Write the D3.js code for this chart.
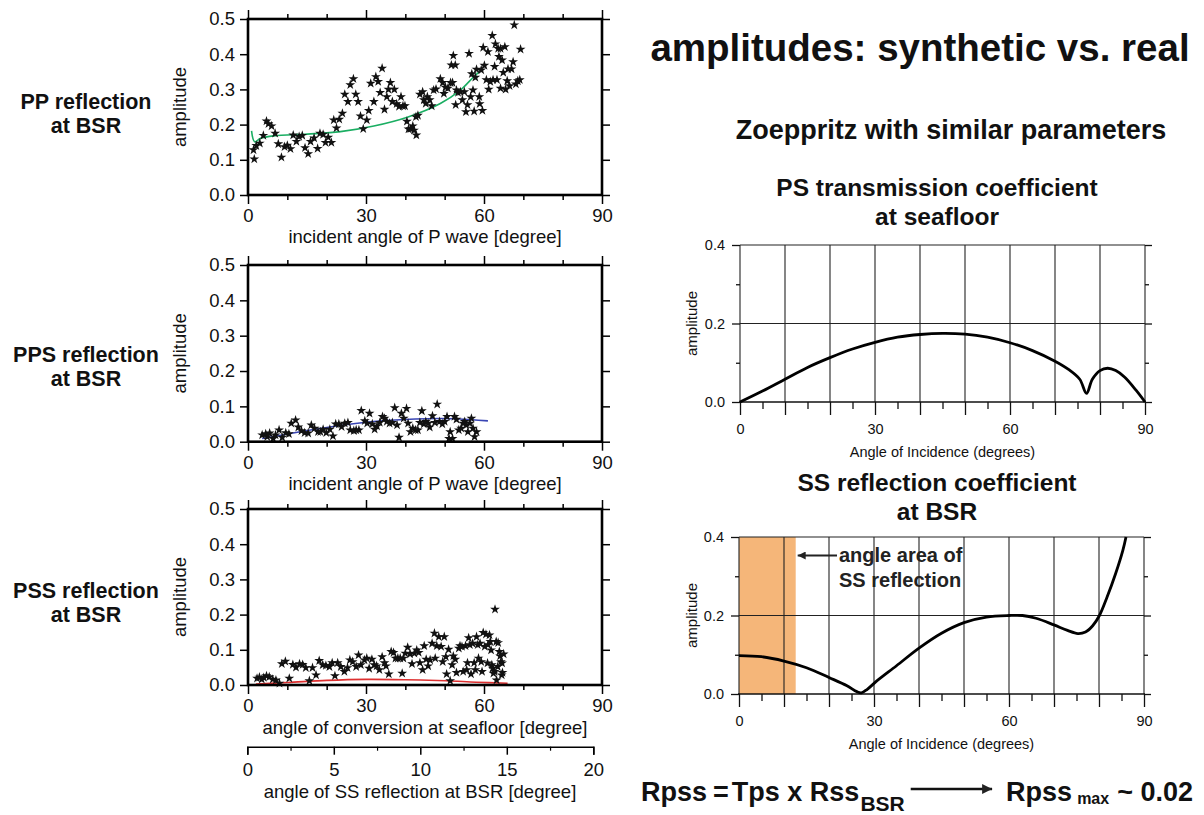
<!DOCTYPE html>
<html>
<head>
<meta charset="utf-8">
<script src="https://cdn.jsdelivr.net/npm/d3@7"></script>
<style>
  body { margin: 0; background: #fff; }
  svg { display: block; font-family: "Liberation Sans", Arial, Helvetica, sans-serif; }
</style>
</head>
<body>
<svg id="chart"></svg>
<script>
// ---- measured data: [angle (deg), amplitude] ----
let ppStars = [[1.4,.128],[1.6,.102],[2.1,.140],[3.0,.147],[3.9,.169],[4.7,.210],[5.2,.202],[6.0,.196],[6.9,.175],[7.7,.145],[8.5,.107],[9.3,.137],[10.0,.141],[10.8,.131],[11.5,.170],[12.3,.152],[13.0,.166],[13.8,.169],[14.5,.134],[15.3,.117],[15.9,.152],[16.8,.162],[17.7,.132],[18.3,.175],[19.1,.172],[19.7,.149],[20.4,.164],[21.2,.149],[21.8,.213],[22.5,.190],[23.2,.215],[24.0,.232],[24.6,.286],[25.4,.265],[26.0,.313],[26.8,.330],[27.4,.286],[28.0,.265],[28.6,.224],[29.3,.188],[30.2,.213],[30.7,.240],[31.2,.317],[32.0,.265],[32.5,.336],[33.1,.322],[33.6,.291],[34.1,.360],[34.7,.243],[35.3,.279],[35.7,.300],[36.2,.319],[36.7,.265],[37.2,.300],[37.8,.259],[38.4,.251],[38.9,.279],[39.4,.253],[39.9,.253],[40.4,.209],[40.8,.187],[41.3,.188],[41.9,.196],[42.2,.184],[42.7,.222],[43.2,.226],[42.8,.170],[43.7,.286],[44.4,.293],[44.7,.270],[45.2,.260],[45.6,.279],[46.2,.270],[46.7,.253],[47.2,.298],[47.8,.301],[48.9,.330],[49.5,.319],[49.8,.288],[50.2,.306],[50.8,.303],[51.5,.319],[52.0,.319],[51.7,.369],[52.2,.396],[52.7,.369],[53.0,.298],[52.8,.256],[53.4,.291],[54.0,.293],[54.5,.270],[55.0,.293],[55.4,.236],[55.8,.256],[56.2,.402],[56.6,.279],[56.9,.344],[57.2,.298],[57.5,.238],[57.8,.334],[58.1,.357],[58.8,.279],[58.9,.259],[59.3,.355],[59.6,.240],[59.8,.419],[60.1,.368],[60.6,.327],[61.0,.407],[61.2,.300],[61.6,.322],[62.1,.453],[62.3,.327],[62.7,.365],[62.9,.429],[63.3,.327],[63.6,.416],[63.8,.393],[64.2,.303],[64.6,.383],[64.9,.348],[65.3,.421],[65.5,.300],[65.9,.324],[66.1,.358],[66.5,.310],[67.0,.358],[67.4,.378],[67.7,.483],[68.1,.315],[68.6,.324],[69.3,.414],[69.1,.327],[64.2,.416]]
let ppLine = [[0.9,.182],[1.7,.151],[3.2,.161],[6.6,.168],[15.1,.173],[23.5,.180],[32,.196],[40.5,.221],[48.9,.260],[54,.298],[57.4,.336],[59.5,.357]]

let ppsStars = [[3.6,.019],[4.5,.022],[4.9,.014],[5.5,.024],[6.4,.009],[7.0,.019],[7.9,.033],[8.7,.012],[9.6,.025],[10.4,.022],[11.0,.052],[12.1,.061],[12.8,.041],[13.6,.031],[14.4,.025],[15.3,.024],[16.1,.047],[16.9,.038],[17.8,.028],[18.4,.028],[19.1,.035],[19.9,.025],[20.8,.035],[21.6,.016],[22.3,.050],[23.1,.050],[23.8,.042],[24.6,.052],[25.4,.054],[26.0,.033],[26.9,.031],[27.5,.033],[28.2,.033],[28.8,.088],[29.7,.059],[30.3,.052],[30.9,.080],[31.6,.050],[32.2,.035],[32.8,.044],[33.5,.054],[34.2,.071],[34.7,.066],[35.3,.057],[36.0,.052],[36.7,.054],[37.3,.096],[37.9,.047],[38.4,.012],[39.0,.080],[39.6,.066],[40.3,.094],[40.7,.052],[41.3,.028],[41.9,.038],[42.6,.033],[43.2,.033],[43.7,.054],[44.2,.087],[44.7,.050],[45.2,.057],[45.8,.052],[46.2,.041],[46.9,.073],[47.5,.054],[48.1,.106],[48.7,.057],[49.4,.050],[50.0,.057],[50.6,.071],[51.1,.009],[51.4,.028],[52.0,.009],[52.5,.071],[53.0,.063],[53.6,.033],[54.2,.038],[54.7,.052],[55.1,.057],[55.5,.047],[55.9,.028],[56.4,.052],[56.8,.066],[57.2,.038],[57.6,.014],[58.1,.028]]
let ppsLine = [[3.6,.009],[10,.022],[20,.040],[28.4,.053],[35,.060],[45.3,.065],[52,.065],[57,.062],[61,.059]]

let pssStars = [[2.3,.019],[2.9,.022],[3.5,.016],[4.0,.021],[4.7,.026],[5.4,.023],[6.3,.016],[7.1,.014],[8.0,.005],[8.6,.060],[9.5,.067],[10.5,.019],[11.4,.058],[12.2,.050],[13.1,.060],[13.9,.058],[14.7,.049],[15.6,.012],[16.4,.049],[17.3,.028],[18.1,.069],[19.0,.057],[19.8,.055],[20.7,.052],[21.4,.063],[22.1,.026],[22.8,.063],[23.6,.052],[24.5,.038],[25.3,.049],[25.9,.071],[26.6,.066],[27.5,.052],[28.1,.085],[28.7,.057],[29.6,.071],[30.2,.076],[30.8,.047],[31.5,.073],[32.1,.057],[32.7,.054],[33.4,.043],[34.1,.080],[34.7,.063],[35.1,.054],[35.8,.031],[36.4,.095],[37.0,.092],[37.5,.076],[38.1,.076],[38.7,.076],[39.2,.033],[39.5,.076],[40.0,.090],[40.6,.107],[41.2,.088],[41.7,.060],[42.3,.090],[42.9,.099],[43.4,.092],[43.7,.063],[44.4,.043],[44.8,.111],[45.3,.073],[45.8,.054],[46.3,.071],[46.8,.118],[47.4,.147],[47.6,.076],[48.0,.111],[48.5,.137],[49.1,.109],[49.5,.066],[49.9,.137],[50.3,.080],[50.5,.031],[51.0,.101],[51.4,.012],[51.9,.057],[52.2,.082],[52.7,.073],[53.0,.035],[53.6,.104],[53.9,.111],[54.4,.109],[54.7,.038],[55.3,.111],[55.6,.043],[55.8,.063],[56.1,.134],[56.4,.114],[56.7,.031],[57.1,.118],[57.5,.063],[57.8,.043],[58.1,.137],[58.4,.114],[58.6,.076],[59.0,.118],[59.3,.066],[59.5,.038],[59.8,.149],[60.2,.109],[60.5,.144],[60.9,.062],[61.0,.114],[61.4,.142],[61.6,.123],[61.8,.099],[62.0,.057],[62.2,.047],[62.4,.033],[62.7,.038],[62.8,.215],[63.1,.123],[63.2,.014],[63.5,.052],[63.6,.120],[63.9,.095],[64.1,.082],[64.3,.066],[64.5,.028],[64.6,.062],[64.7,.035],[65.0,.088]]
let pssLine = [[2,.003],[10,.007],[20,.013],[30,.016],[40,.015],[50.3,.012],[58,.008],[66,.005]]

let psTransmission = [[0,0],[5,.028],[10,.058],[15,.088],[20,.113],[25,.135],[30,.152],[35,.165],[40,.172],[45,.175],[50,.173],[55,.165],[60,.151],[65,.131],[70,.104],[73,.083],[75.5,.058],[77,.022],[78.3,.058],[80,.080],[81.7,.086],[83.5,.080],[85.5,.063],[88,.030],[90,0]]
let ssReflection = [[0,.098],[5,.095],[10,.084],[15,.067],[20,.042],[24,.021],[26.2,.006],[27.2,.003],[28.5,.012],[30.5,.032],[35,.072],[40,.117],[45,.155],[50,.182],[55,.196],[60,.200],[63,.200],[66,.193],[70,.176],[73,.162],[75.3,.154],[77,.158],[78.6,.174],[80.1,.200],[81.8,.247],[83.7,.307],[85.3,.366],[86,.400]]
let ssAngleArea = [0, 12.6]

let angleMajor = [0, 30, 60, 90]
let angleMinor = [10, 20, 40, 50, 70, 80]
let ampTicks = [0, 0.1, 0.2, 0.3, 0.4, 0.5]
let ssAngleTicks = [0, 5, 10, 15, 20]
let ssAngleMinor = [2.5, 7.5, 12.5, 17.5]

let width = 1204
let height = 815
let svg = d3.select('#chart').attr('width', width).attr('height', height)

let star = d3.symbol().type(d3.symbolStar).size(30)

// left column: measured amplitudes with synthetic curve
let drawScatterPanel = (p) => {
    let x = d3.scaleLinear().domain([0, 90]).range([p.left, p.right])
    let y = d3.scaleLinear().domain([0, 0.5]).range([p.bottom, p.top])
    let g = svg.append('g')

    let addAxis = (axis, tf, size, labels) => {
        let a = g.append('g').attr('transform', tf)
            .call(axis.tickSize(size).tickPadding(5))
        a.select('.domain').remove()
        a.selectAll('line').attr('stroke', '#000').attr('stroke-width', 1.5)
        a.selectAll('text').attr('font-size', 18.5).attr('fill', '#111')
        if (!labels) a.selectAll('text').remove()
    }
    addAxis(d3.axisBottom(x).tickValues(angleMajor), `translate(0,${p.bottom})`, 9, true)
    addAxis(d3.axisBottom(x).tickValues(angleMinor), `translate(0,${p.bottom})`, 5, false)
    addAxis(d3.axisTop(x).tickValues(angleMajor), `translate(0,${p.top})`, 9, false)
    addAxis(d3.axisTop(x).tickValues(angleMinor), `translate(0,${p.top})`, 5, false)
    addAxis(d3.axisLeft(y).tickValues(ampTicks).tickFormat(d3.format('.1f')).tickPadding(4), `translate(${p.left},0)`, 8, true)
    addAxis(d3.axisRight(y).tickValues(ampTicks), `translate(${p.right},0)`, 8, false)

    g.append('path')
        .datum(p.line)
        .attr('fill', 'none')
        .attr('stroke', p.color)
        .attr('stroke-width', 1.6)
        .attr('d', d3.line().x(d => x(d[0])).y(d => y(d[1])).curve(d3.curveCatmullRom))

    g.selectAll('.star')
        .data(p.stars)
        .enter()
        .append('path')
        .attr('d', star)
        .attr('transform', d => `translate(${x(d[0])},${y(d[1])})`)
        .attr('fill', '#111')

    g.append('rect')
        .attr('x', p.left).attr('y', p.top)
        .attr('width', p.right - p.left).attr('height', p.bottom - p.top)
        .attr('fill', 'none').attr('stroke', '#000').attr('stroke-width', 2.6)

    g.append('text')
        .attr('transform', `translate(186,${(p.top + p.bottom) / 2}) rotate(-90)`)
        .attr('text-anchor', 'middle').attr('font-size', 18.5).attr('fill', '#111')
        .text('amplitude')
    g.append('text')
        .attr('x', (p.left + p.right) / 2).attr('y', p.bottom + p.titleDy)
        .attr('text-anchor', 'middle').attr('font-size', 18.5).attr('fill', '#111')
        .text(p.xTitle)

    p.rowLabel.forEach((t, i) => {
        g.append('text')
            .attr('x', 86).attr('y', p.rowY + i * 24)
            .attr('text-anchor', 'middle').attr('font-size', 21.5)
            .attr('font-weight', 'bold').attr('fill', '#111')
            .text(t)
    })
    return x
}

drawScatterPanel({left: 248, right: 602, top: 19, bottom: 195, stars: ppStars, line: ppLine, color: '#1aae62',
    xTitle: 'incident angle of P wave [degree]', titleDy: 48, rowLabel: ['PP reflection', 'at BSR'], rowY: 108.5})
drawScatterPanel({left: 248, right: 602, top: 265, bottom: 441.7, stars: ppsStars, line: ppsLine, color: '#3a46b4',
    xTitle: 'incident angle of P wave [degree]', titleDy: 48, rowLabel: ['PPS reflection', 'at BSR'], rowY: 361.5})
drawScatterPanel({left: 248, right: 602, top: 509, bottom: 685, stars: pssStars, line: pssLine, color: '#dd3030',
    xTitle: 'angle of conversion at seafloor [degree]', titleDy: 49, rowLabel: ['PSS reflection', 'at BSR'], rowY: 597.5})

// secondary axis: SS reflection angle at BSR
let ssScale = d3.scaleLinear().domain([0, 20]).range([247.3, 593.3])
let ssAxis = svg.append('g').attr('transform', 'translate(0,746.7)')
    .call(d3.axisBottom(ssScale).tickValues(ssAngleTicks).tickSize(8).tickPadding(8))
ssAxis.select('.domain').attr('stroke-width', 1.5)
ssAxis.selectAll('line').attr('stroke-width', 1.5)
ssAxis.selectAll('text').attr('font-size', 18.5).attr('fill', '#111')
svg.append('g').attr('transform', 'translate(0,746.7)')
    .call(d3.axisBottom(ssScale).tickValues(ssAngleMinor).tickSize(4).tickFormat(''))
    .call(a => a.select('.domain').remove())
    .selectAll('line').attr('stroke-width', 1.2)
svg.append('text')
    .attr('x', 420).attr('y', 798)
    .attr('text-anchor', 'middle').attr('font-size', 18.5).attr('fill', '#111')
    .text('angle of SS reflection at BSR [degree]')

// right column: Zoeppritz curves
let drawCurvePanel = (p) => {
    let x = d3.scaleLinear().domain([0, 90]).range([p.left, p.right])
    let y = d3.scaleLinear().domain([0, 0.4]).range([p.bottom, p.top])
    let g = svg.append('g')

    if (p.band) {
        g.append('rect')
            .attr('x', x(p.band[0])).attr('y', y(0.4))
            .attr('width', x(p.band[1]) - x(p.band[0])).attr('height', y(0) - y(0.4))
            .attr('fill', '#f5b679')
    }

    // grid
    g.selectAll('.vgrid').data(d3.range(0, 91, 10)).enter().append('line')
        .attr('x1', d => x(d)).attr('x2', d => x(d))
        .attr('y1', y(0)).attr('y2', y(0.4))
        .attr('stroke', '#222').attr('stroke-width', 1.1)
    g.selectAll('.hgrid').data([0.2, 0.4]).enter().append('line')
        .attr('x1', x(0)).attr('x2', x(90))
        .attr('y1', d => y(d)).attr('y2', d => y(d))
        .attr('stroke', '#222').attr('stroke-width', 1.1)

    let addAxis = (axis, tf, size, labels) => {
        let a = g.append('g').attr('transform', tf)
            .call(axis.tickSize(size))
        a.select('.domain').remove()
        a.selectAll('line').attr('stroke', '#111').attr('stroke-width', 1.3)
        a.selectAll('text').attr('font-size', 14.5).attr('fill', '#111')
        if (!labels) a.selectAll('text').remove()
    }
    addAxis(d3.axisBottom(x).tickValues(angleMajor).tickPadding(9), `translate(0,${p.bottom})`, 13, true)
    addAxis(d3.axisBottom(x).tickValues(angleMinor), `translate(0,${p.bottom})`, 13, false)
    addAxis(d3.axisBottom(x).tickValues(d3.range(5, 90, 10)), `translate(0,${p.bottom})`, 7, false)
    addAxis(d3.axisLeft(y).tickValues([0, 0.2, 0.4]).tickFormat(d3.format('.1f')).tickPadding(7), `translate(${p.left},0)`, 8, true)
    addAxis(d3.axisLeft(y).tickValues([0.1, 0.3]), `translate(${p.left},0)`, 4, false)
    addAxis(d3.axisRight(y).tickValues([0, 0.2, 0.4]), `translate(${p.right},0)`, 7, false)
    addAxis(d3.axisRight(y).tickValues([0.1, 0.3]), `translate(${p.right},0)`, 4, false)
    g.append('line')
        .attr('x1', x(0) - 1).attr('x2', x(90) + 1)
        .attr('y1', y(0)).attr('y2', y(0))
        .attr('stroke', '#111').attr('stroke-width', 1.6)

    g.append('path')
        .datum(p.curve)
        .attr('fill', 'none')
        .attr('stroke', '#000')
        .attr('stroke-width', 2.8)
        .attr('stroke-linejoin', 'round')
        .attr('d', d3.line().x(d => x(d[0])).y(d => y(d[1])).curve(d3.curveCatmullRom))

    g.append('text')
        .attr('transform', `translate(697,${(p.top + p.bottom) / 2}) rotate(-90)`)
        .attr('text-anchor', 'middle').attr('font-size', 15).attr('fill', '#111')
        .text('amplitude')
    g.append('text')
        .attr('x', (p.left + p.right) / 2).attr('y', p.bottom + 55)
        .attr('text-anchor', 'middle').attr('font-size', 14.5).attr('fill', '#111')
        .text('Angle of Incidence (degrees)')
    p.title.forEach((t, i) => {
        g.append('text')
            .attr('x', 937).attr('y', p.titleY + i * 28.5)
            .attr('text-anchor', 'middle').attr('font-size', 24.5)
            .attr('font-weight', 'bold').attr('fill', '#111')
            .text(t)
    })
    return {x, y}
}

drawCurvePanel({left: 740, right: 1145, top: 245, bottom: 402, curve: psTransmission,
    title: ['PS transmission coefficient', 'at seafloor'], titleY: 196})
let ss = drawCurvePanel({left: 739, right: 1144, top: 537, bottom: 694, curve: ssReflection, band: ssAngleArea,
    title: ['SS reflection coefficient', 'at BSR'], titleY: 491})

// arrow pointing at the SS angle band
svg.append('defs').append('marker')
    .attr('id', 'head').attr('viewBox', '0 0 10 10')
    .attr('refX', 10).attr('refY', 5)
    .attr('markerWidth', 6).attr('markerHeight', 4).attr('markerUnits', 'strokeWidth')
    .attr('orient', 'auto')
    .append('path').attr('d', 'M0,0 L10,5 L0,10 z').attr('fill', '#222')
svg.append('line')
    .attr('x1', 837).attr('x2', ss.x(ssAngleArea[1]) + 2)
    .attr('y1', 555.5).attr('y2', 555.5)
    .attr('stroke', '#222').attr('stroke-width', 2)
    .attr('marker-end', 'url(#head)')
svg.append('text').attr('x', 839).attr('y', 562)
    .attr('font-size', 20).attr('font-weight', 'bold').attr('fill', '#222')
    .text('angle area of')
svg.append('text').attr('x', 839).attr('y', 586.5)
    .attr('font-size', 20).attr('font-weight', 'bold').attr('fill', '#222')
    .text('SS reflection')

// headings
svg.append('text').attr('x', 920).attr('y', 61)
    .attr('text-anchor', 'middle').attr('font-size', 38.5).attr('font-weight', 'bold').attr('fill', '#111')
    .text('amplitudes: synthetic vs. real')
svg.append('text').attr('x', 951).attr('y', 139)
    .attr('text-anchor', 'middle').attr('font-size', 27).attr('font-weight', 'bold').attr('fill', '#111')
    .text('Zoeppritz with similar parameters')

// formula line at the bottom right
let put = (txt, x, y, size, anchor) => {
    let t = svg.append('text').attr('x', x).attr('y', y)
        .attr('font-size', size).attr('font-weight', 'bold').attr('fill', '#111')
        .attr('text-anchor', anchor || 'start')
        .text(txt)
    return t.node().getComputedTextLength()
}
let fx = 641
fx += put('Rpss', fx, 801, 27)
fx += 6 + put('=', fx + 6, 801, 27)
fx += 3 + put('Tps x Rss', fx + 3, 801, 27)
fx += 1 + put('BSR', fx + 1, 810.5, 21)
let rx = 1193
rx -= put('~ 0.02', rx, 801, 27, 'end') + 8
rx -= put('max', rx, 804, 16, 'end') + 5
rx -= put('Rpss', rx, 801, 27, 'end')
svg.append('line')
    .attr('x1', fx + 6).attr('x2', rx - 14)
    .attr('y1', 789).attr('y2', 789)
    .attr('stroke', '#111').attr('stroke-width', 2.5)
    .attr('marker-end', 'url(#head)')
</script>
</body>
</html>
